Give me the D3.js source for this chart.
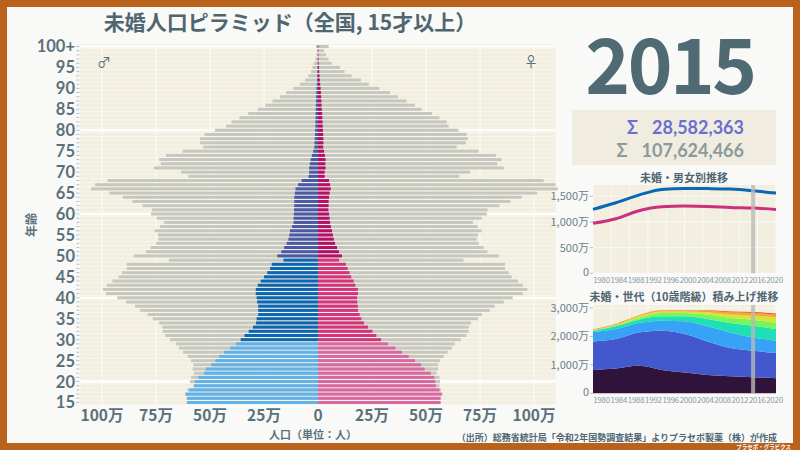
<!DOCTYPE html>
<html><head><meta charset="utf-8">
<script src="https://cdn.jsdelivr.net/npm/d3@7"></script>
<style>
body{margin:0;background:#ba621c;}
svg{display:block;font-family:"Noto Sans CJK JP","Noto Sans",sans-serif;}
</style>
</head><body>
<svg id="c" width="800" height="450"></svg>
<script>
// ---------- DATA (values in 万人) ----------
const ages = d3.range(15, 101).map(a => a === 100 ? "100+" : String(a));
const maleTotal = [60.8,60.8,61.6,60.5,57.7,59.3,58.8,57.4,58.0,57.7,58.8,60.3,62.5,64.4,65.7,68.5,70.8,71.9,72.1,73.5,76.5,78.9,82.4,84.7,88.9,92.9,98.1,99.5,97.8,95.2,92.3,90.7,88.6,88.6,69.0,85.2,79.6,77.5,75.0,73.9,74.1,75.6,73.1,71.3,74.7,77.3,76.9,81.2,85.8,90.4,96.6,105.1,103.2,97.5,60.0,63.4,75.9,72.8,73.5,70.4,62.7,53.1,54.6,54.6,52.5,47.7,42.6,40.0,36.4,32.3,27.8,24.4,21.0,17.6,14.8,11.4,8.3,6.0,4.5,3.2,2.6,1.9,1.2,0.8,0.5,0.9];
const maleUnmarried = [60.6,60.6,61.3,59.6,57.4,57.0,55.4,52.8,51.9,49.5,47.5,45.7,43.5,40.7,38.0,35.8,34.0,32.1,30.1,28.7,28.4,27.7,27.7,27.7,28.2,28.4,28.8,28.8,27.9,26.5,25.0,23.5,22.2,21.4,16.0,18.8,17.0,15.7,14.5,13.7,13.3,13.0,12.0,11.3,11.3,11.2,11.1,11.0,11.0,11.0,10.7,10.4,9.2,7.6,4.4,4.1,4.1,3.8,3.4,2.8,2.2,1.7,1.6,1.5,1.4,1.3,1.25,1.2,1.15,1.1,1.05,1.0,0.95,0.85,0.75,0.65,0.55,0.45,0.35,0.3,0.25,0.2,0.15,0.1,0.1,0.1];
const femaleTotal = [56.9,56.9,57.7,56.9,56.2,56.5,56.2,54.9,55.6,55.6,56.5,58.2,60.0,62.0,63.3,66.2,68.7,69.8,69.8,70.8,74.1,75.9,79.5,81.8,86.0,90.1,94.8,96.9,94.8,92.6,89.7,88.3,86.6,86.6,67.4,83.8,78.5,76.7,74.4,73.5,74.1,75.8,73.9,71.8,75.8,78.2,78.5,84.0,89.0,94.3,101.5,111.0,110.0,104.5,65.4,70.4,86.0,83.0,85.0,82.4,74.4,64.2,68.5,69.4,68.8,65.0,60.5,59.6,56.2,52.8,48.0,44.8,41.0,37.0,33.3,28.4,23.5,19.8,15.6,12.3,10.2,6.3,4.9,3.7,2.8,4.9];
const femaleUnmarried = [56.7,56.7,57.2,56.3,54.6,54.3,53.9,52.2,49.4,47.7,44.9,42.0,38.9,35.8,32.4,29.2,27.0,25.2,23.1,21.3,20.1,19.3,18.5,18.4,18.2,18.1,18.5,18.5,17.3,16.5,15.4,14.6,13.7,12.9,9.8,11.1,9.7,8.8,7.9,7.3,6.9,6.5,6.0,5.6,5.4,5.1,4.8,4.9,4.9,5.1,5.4,5.9,5.6,5.1,3.1,3.1,3.5,3.4,3.5,3.2,2.8,2.4,2.5,2.5,2.4,2.3,2.2,2.1,2.0,1.9,1.75,1.65,1.55,1.45,1.35,1.2,1.0,0.85,0.7,0.55,0.45,0.3,0.25,0.2,0.15,0.2];
const pyramidTicks = [-100, -75, -50, -25, 0, 25, 50, 75, 100];
const ageTickLabels = ["15","20","25","30","35","40","45","50","55","60","65","70","75","80","85","90","95","100+"];
const ageLines = ["20","40","60","80","100+"];

const years = [1980, 1985, 1990, 1995, 2000, 2005, 2010, 2015, 2020];
const maleTrend = [1245, 1374, 1523, 1634, 1654, 1650, 1640, 1607, 1562];
const femaleTrend = [973, 1062, 1218, 1296, 1310, 1303, 1284, 1270, 1245];
const gen10s = [823, 870, 965, 823, 729, 647, 600, 565, 530];
const gen20s = [1000, 1038, 1176, 1378, 1356, 1176, 990, 930, 883];
const gen30s = [331, 353, 332, 354, 445, 532, 552, 471, 435];
const gen40s = [36, 94, 117, 153, 178, 259, 331, 412, 413];
const gen50s = [23, 35, 60, 118, 118, 153, 177, 212, 212];
const gen60s = [12, 24, 58, 47, 47, 83, 117, 141, 199];
const gen70s = [12, 24, 35, 35, 35, 50, 83, 96, 95];
const gen80s = [5, 5, 5, 10, 15, 20, 30, 35, 40];
const genKeys = ["10代", "20代", "30代", "40代", "50代", "60代", "70代", "80代以上"];
const yearTicks = d3.range(1980, 2021, 4);
const trendTicks = [0, 500, 1000, 1500];
const stackTicks = [0, 1000, 2000, 3000];
const currentYear = 2015;
const sumUnmarried = 28582363;
const sumAll = 107624466;

// ---------- DRAW ----------
const svg = d3.select("#c");
const ink = "#4e6670";
const bg = "#f2eee0";
const latin = "Lato, 'Noto Sans', sans-serif";

svg.append("rect").attr("x", 0).attr("y", 0).attr("width", 800).attr("height", 450).attr("fill", "#ba621c");
svg.append("rect").attr("x", 7).attr("y", 7).attr("width", 786).attr("height", 436).attr("fill", "#f9f9f8");

svg.append("text").attr("x", 290).attr("y", 30).attr("text-anchor", "middle")
  .attr("font-size", 21).attr("font-weight", 700).attr("fill", ink)
  .text("未婚人口ピラミッド（全国, 15才以上）");

// pyramid
const x = d3.scaleLinear().domain([-110, 110]).range([80.4, 555.6]);
const y = d3.scaleBand().domain(ages.slice().reverse()).range([44.4, 404.6]).paddingInner(0.28).paddingOuter(0.14);
const P = {l: 80.4, r: 555.6, t: 44.4, b: 404.6};
const g = svg.append("g");
g.append("rect").attr("x", P.l).attr("y", P.t).attr("width", P.r - P.l).attr("height", P.b - P.t).attr("fill", bg);
g.selectAll("line.row").data(ages).join("line")
  .attr("x1", P.l).attr("x2", P.r)
  .attr("y1", d => y(d) + y.bandwidth() + 0.6).attr("y2", d => y(d) + y.bandwidth() + 0.6)
  .attr("stroke", "#fbf9f2").attr("stroke-width", 1).attr("opacity", 0.7);
g.selectAll("line.vg").data(pyramidTicks).join("line")
  .attr("x1", d => x(d)).attr("x2", d => x(d)).attr("y1", P.t).attr("y2", P.b)
  .attr("stroke", "#ffffff").attr("stroke-width", 1).attr("opacity", 0.8);
g.selectAll("line.hg").data(ageLines).join("line")
  .attr("x1", P.l).attr("x2", P.r)
  .attr("y1", d => y(d) + y.bandwidth() / 2).attr("y2", d => y(d) + y.bandwidth() / 2)
  .attr("stroke", "#ffffff").attr("stroke-width", 2.2);

const grey = "#c6c8c0";
const maleCol = a => { const n = a === "100+" ? 100 : +a; return n < 30 ? "#5fb2ea" : n < 50 ? "#0b67b3" : "#4a5aa7"; };
const femaleCol = a => { const n = a === "100+" ? 100 : +a; return n < 30 ? "#db67a2" : n < 50 ? "#d5347d" : "#b50f69"; };

g.selectAll("rect.mt").data(ages).join("rect")
  .attr("x", (d, i) => x(-maleTotal[i])).attr("width", (d, i) => x(0) - x(-maleTotal[i]))
  .attr("y", d => y(d)).attr("height", y.bandwidth()).attr("fill", grey);
g.selectAll("rect.ft").data(ages).join("rect")
  .attr("x", x(0)).attr("width", (d, i) => x(femaleTotal[i]) - x(0))
  .attr("y", d => y(d)).attr("height", y.bandwidth()).attr("fill", grey);
g.selectAll("rect.mu").data(ages).join("rect")
  .attr("x", (d, i) => x(-maleUnmarried[i])).attr("width", (d, i) => x(0) - x(-maleUnmarried[i]))
  .attr("y", d => y(d)).attr("height", y.bandwidth()).attr("fill", d => maleCol(d));
g.selectAll("rect.fu").data(ages).join("rect")
  .attr("x", x(0)).attr("width", (d, i) => x(femaleUnmarried[i]) - x(0))
  .attr("y", d => y(d)).attr("height", y.bandwidth()).attr("fill", d => femaleCol(d));

const yAxis = g.append("g");
yAxis.selectAll("line").data(ages).join("line")
  .attr("x1", P.l - 4).attr("x2", P.l - 1)
  .attr("y1", d => y(d) + y.bandwidth() / 2).attr("y2", d => y(d) + y.bandwidth() / 2)
  .attr("stroke", "#b8bfc2").attr("stroke-width", 1);
yAxis.selectAll("text").data(ageTickLabels).join("text")
  .attr("x", 75).attr("y", d => y(d) + y.bandwidth() / 2).attr("dy", "0.36em")
  .attr("text-anchor", "end").attr("font-family", latin).attr("font-size", 16.5).attr("font-weight", 700).attr("fill", "#5b717a")
  .text(d => d);
const xAxis = g.append("g");
xAxis.selectAll("text").data(pyramidTicks).join("text")
  .attr("x", d => x(d)).attr("y", 421).attr("text-anchor", "middle")
  .attr("font-size", 15.5).attr("font-weight", 700).attr("fill", "#5b717a")
  .text(d => d === 0 ? "0" : Math.abs(d) + "万");
svg.append("text").attr("x", 313).attr("y", 439).attr("text-anchor", "middle")
  .attr("font-size", 11).attr("font-weight", 700).attr("fill", "#5b717a").text("人口（単位：人）");
svg.append("text").attr("transform", "translate(36,225) rotate(-90)").attr("text-anchor", "middle")
  .attr("font-size", 12).attr("font-weight", 700).attr("fill", "#5b717a").text("年齢");
svg.append("text").attr("x", 104).attr("y", 67).attr("text-anchor", "middle").attr("font-size", 14).attr("fill", "#5b717a").text("♂");
svg.append("text").attr("x", 531).attr("y", 67).attr("text-anchor", "middle").attr("font-size", 14).attr("fill", "#5b717a").text("♀");

// year + sums
svg.append("text").attr("x", 670).attr("y", 94).attr("text-anchor", "middle")
  .attr("font-size", 76).attr("letter-spacing", -2.5).attr("font-weight", 700).attr("fill", "#4f6a72").text(currentYear);
svg.append("rect").attr("x", 572).attr("y", 110).attr("width", 204).attr("height", 55).attr("fill", "#f0ece0");
const fmt = d3.format(",");
const sums = [{v: sumUnmarried, c: "#6a6fd2", y: 134}, {v: sumAll, c: "#8b9b9d", y: 157}];
sums.forEach(s => {
  const t = svg.append("text").attr("x", 744).attr("y", s.y).attr("text-anchor", "end")
    .attr("font-family", latin).attr("font-size", 18).attr("font-weight", 700).attr("fill", s.c).text(fmt(s.v));
  const w = t.node().getComputedTextLength();
  svg.append("text").attr("x", 744 - w - 14).attr("y", s.y).attr("text-anchor", "end")
    .attr("font-family", latin).attr("font-size", 18).attr("font-weight", 700).attr("fill", s.c).text("Σ");
});

// small charts
const xs = d3.scaleLinear().domain([1980, 2020]).range([593, 776]);
const xl = d3.scaleLinear().domain([1980, 2020]).range([601.5, 774.5]);
const yl = d3.scaleLinear().domain([0, 1720]).range([273.3, 185]);
function smallFrame(yScale, ticks, top, bottom, title, titleY) {
  svg.append("rect").attr("x", 593).attr("y", top).attr("width", 183).attr("height", bottom - top).attr("fill", bg);
  svg.selectAll(null).data(yearTicks).join("line")
    .attr("x1", d => xs(d)).attr("x2", d => xs(d)).attr("y1", top).attr("y2", bottom)
    .attr("stroke", "#ffffff").attr("stroke-width", 0.8).attr("opacity", 0.8);
  svg.selectAll(null).data(ticks).join("line")
    .attr("x1", 593).attr("x2", 776).attr("y1", d => yScale(d)).attr("y2", d => yScale(d))
    .attr("stroke", "#ffffff").attr("stroke-width", 0.8).attr("opacity", 0.8);
  svg.selectAll(null).data(ticks).join("text")
    .attr("x", 589).attr("y", d => yScale(d) - (d === 0 ? 1.5 : 0)).attr("dy", "0.36em").attr("text-anchor", "end")
    .attr("font-size", 11).attr("fill", "#6d8088").text(d => d === 0 ? "0" : fmt(d) + "万");
  svg.selectAll(null).data(ticks).join("line")
    .attr("x1", 590).attr("x2", 593).attr("y1", d => yScale(d)).attr("y2", d => yScale(d))
    .attr("stroke", "#b8bfc2");
  svg.selectAll(null).data(yearTicks).join("text")
    .attr("x", d => xl(d)).attr("y", bottom + 10).attr("text-anchor", "middle")
    .attr("font-size", 8).attr("letter-spacing", -0.3).attr("fill", "#8a9ba1").text(d => d);
  svg.append("text").attr("x", 684).attr("y", titleY).attr("text-anchor", "middle")
    .attr("font-size", 11).attr("font-weight", 700).attr("fill", ink).text(title);
}
smallFrame(yl, trendTicks, 185, 273.3, "未婚・男女別推移", 182);
const line = d3.line().x((d, i) => xs(years[i])).y(d => yl(d)).curve(d3.curveMonotoneX);
svg.append("path").datum(femaleTrend).attr("d", line).attr("fill", "none").attr("stroke", "#cc2f7c").attr("stroke-width", 3);
svg.append("path").datum(maleTrend).attr("d", line).attr("fill", "none").attr("stroke", "#0a67b5").attr("stroke-width", 3);
svg.append("rect").attr("x", xs(currentYear) - 2).attr("y", 185).attr("width", 4).attr("height", 88.3).attr("fill", "#b9b9b6").attr("opacity", 0.8);

const ya = d3.scaleLinear().domain([0, 3105]).range([393.3, 305]);
smallFrame(ya, stackTicks, 305, 393.3, "未婚・世代（10歳階級）積み上げ推移", 301);
const genSeries = [gen10s, gen20s, gen30s, gen40s, gen50s, gen60s, gen70s, gen80s];
const rows = years.map((yr, i) => { const o = {year: yr}; genKeys.forEach((k, j) => o[k] = genSeries[j][i]); return o; });
const stacked = d3.stack().keys(genKeys)(rows);
const genColors = ["#30133b", "#4458cd", "#37a3f6", "#1fdfb4", "#74f65c", "#d3e535", "#f8a535", "#e8512a"];
const area = d3.area().x(d => xs(d.data.year)).y0(d => ya(d[0])).y1(d => ya(d[1])).curve(d3.curveMonotoneX);
svg.selectAll("path.ar").data(stacked).join("path").attr("class", "ar")
  .attr("d", area).attr("fill", (d, i) => genColors[i]);
svg.append("rect").attr("x", xs(currentYear) - 2).attr("y", 305).attr("width", 4).attr("height", 88.3).attr("fill", "#b9b9b6").attr("opacity", 0.8);

// source
svg.append("text").attr("x", 777).attr("y", 441).attr("text-anchor", "end")
  .attr("font-size", 9).attr("font-weight", 700).attr("fill", ink)
  .text("（出所）総務省統計局「令和2年国勢調査結果」よりプラセボ製薬（株）が作成");
svg.append("text").attr("x", 791).attr("y", 449).attr("text-anchor", "end")
  .attr("font-size", 5.5).attr("font-weight", 700).attr("fill", "#ffffff").text("プラセボ・グラビクス");
</script>
</body></html>
